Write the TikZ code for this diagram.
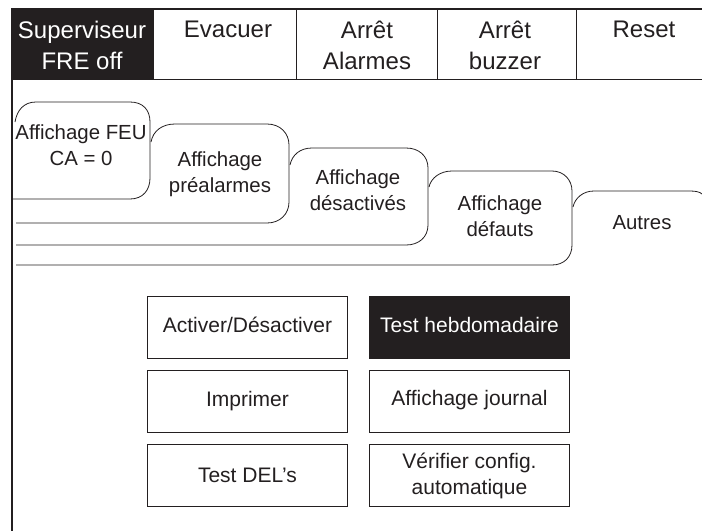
\documentclass[tikz,border=0pt]{standalone}
\usepackage{fontspec}
\setmainfont{Liberation Sans}
\definecolor{ink}{RGB}{35,31,32}
\tikzset{
  frameline/.style={draw=ink,line width=1pt},
  tabline/.style={draw=ink,line width=0.8pt},
  bar/.style={font=\fontsize{24}{31}\selectfont,align=center,text=ink,anchor=center,inner sep=0pt},
  barinv/.style={bar,text=white},
  tablabel/.style={font=\fontsize{20.4}{26}\selectfont,align=center,text=ink,anchor=center,inner sep=0pt},
  btn/.style={draw=ink,line width=0.9pt,minimum width=200pt,minimum height=62pt,inner sep=0pt,font=\fontsize{21}{26}\selectfont,align=center,text=ink,anchor=north west},
  btninv/.style={btn,fill=ink,text=white}
}
\begin{document}
\begin{tikzpicture}[x=1pt,y=-1pt]
\useasboundingbox (0,0) rectangle (702,531);
% top bar
\fill[ink] (11,8) rectangle (154,80);
\draw[ink,line width=2pt] (11,9) -- (702,9);
\draw[ink,line width=2pt] (12,8) -- (12,531);
\draw[frameline] (154,79) -- (702,79);
\draw[frameline] (296,9) -- (296,79);
\draw[frameline] (437,9) -- (437,79);
\draw[frameline] (576,9) -- (576,79);
\node[barinv] (sup) at (82,45) {Superviseur\\FRE off};
\node[bar] (eva) at (228,29) {Evacuer};
\node[bar] (ala) at (367,45) {Arrêt\\Alarmes};
\node[bar] (buz) at (505,45) {Arrêt\\buzzer};
\node[bar] (res) at (644,29) {Reset};
% tabs
\draw[tabline] (15,122) .. controls (17,110) and (24,102) .. (36,102) -- (130,102)
  .. controls (143,102) and (150,110) .. (150,122) -- (150,178)
  .. controls (150,190) and (143,199) .. (130,199) -- (13,199);
\draw[tabline] (151,142) .. controls (153,131) and (162,124) .. (175,124) -- (267,124)
  .. controls (280,124) and (289,133) .. (289,145) -- (289,202)
  .. controls (289,214) and (280,223) .. (267,223) -- (16,223);
\draw[tabline] (290,165) .. controls (292,155) and (300,148) .. (312,148) -- (406,148)
  .. controls (419,148) and (428,156) .. (428,168) -- (428,225)
  .. controls (428,237) and (419,245) .. (406,245) -- (16,245);
\draw[tabline] (429,187) .. controls (431,178) and (440,171) .. (452,171) -- (552,171)
  .. controls (564,171) and (572,180) .. (572,191) -- (572,245)
  .. controls (572,257) and (564,265) .. (552,265) -- (16,265);
\draw[tabline] (573,207) .. controls (575,198) and (583,191) .. (594,191) -- (690,191)
  .. controls (696,191) and (700,192) .. (702,194);
\node[tablabel] (t1) at (81,145) {Affichage FEU\\CA = 0};
\node[tablabel] (t2) at (220,174) {Affichage\\préalarmes};
\node[tablabel] (t3) at (358,190) {Affichage\\désactivés};
\node[tablabel] (t4) at (500,216) {Affichage\\défauts};
\node[tablabel] (t5) at (642,223) {Autres};
% buttons
\node[btn] (b1) at (147,296) {\raisebox{6pt}{Activer/Désactiver}};
\node[btninv] (b2) at (369,296) {\raisebox{6pt}{Test hebdomadaire}};
\node[btn] (b3) at (147,370) {Imprimer};
\node[btn] (b4) at (369,370) {\raisebox{8pt}{Affichage journal}};
\node[btn] (b5) at (147,444) {Test DEL’s};
\node[btn] (b6) at (369,444) {Vérifier config.\\automatique};
\end{tikzpicture}
\end{document}
